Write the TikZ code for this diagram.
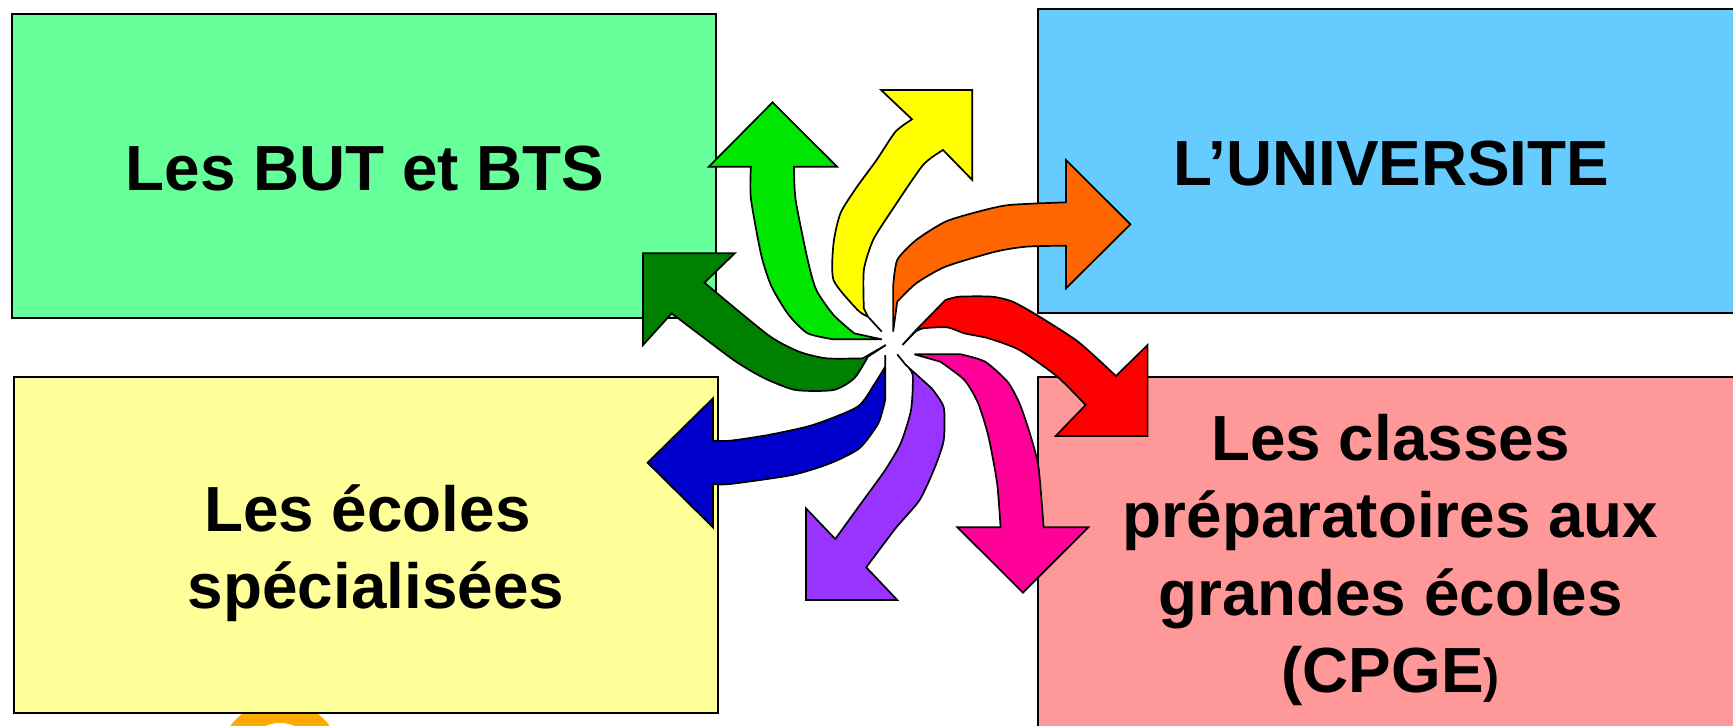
\documentclass[tikz,border=0pt]{standalone}
\usepackage{fontspec}
\setmainfont{Liberation Sans}
\definecolor{boxgreen}{HTML}{66FF99}
\definecolor{boxblue}{HTML}{66CCFF}
\definecolor{boxyellow}{HTML}{FFFF99}
\definecolor{boxpink}{HTML}{FF9999}
\definecolor{arlime}{HTML}{00E600}
\definecolor{aryellow}{HTML}{FFFF00}
\definecolor{arorange}{HTML}{FF6600}
\definecolor{arred}{HTML}{FF0000}
\definecolor{armagenta}{HTML}{FF0099}
\definecolor{arpurple}{HTML}{9933FF}
\definecolor{arblue}{HTML}{0000CC}
\definecolor{ardark}{HTML}{008000}
\definecolor{ringorange}{HTML}{FFAA00}
\tikzset{
  panel/.style={draw=black,line width=0.8pt,anchor=north west,inner sep=0pt,outer sep=0pt},
  caption/.style={font=\fontsize{31.9}{38.7}\selectfont\bfseries,align=center,inner sep=0pt,text=black},
  swirl/.style={draw=black,line width=0.85pt,line join=miter,miter limit=6},
  curve/.style={smooth,tension=0.4}
}
\begin{document}
\begin{tikzpicture}[x=0.5pt,y=-0.5pt]
\useasboundingbox (0,0) rectangle (1733,726);
\clip (0,0) rectangle (1733,726);
\fill[white] (0,0) rectangle (1733,726);
% ring peeping out below the yellow box
\draw[ringorange,line width=11pt] (280,763) circle[radius=51];
% panels
\node[panel,fill=boxgreen,minimum width=352pt,minimum height=152pt] (butbox) at (12,14) {};
\node[panel,fill=boxblue,minimum width=360pt,minimum height=152pt] (unibox) at (1038,9) {};
\node[panel,fill=boxyellow,minimum width=352pt,minimum height=168pt] (ecobox) at (14,377) {};
\node[panel,fill=boxpink,minimum width=360pt,minimum height=200pt] (cpgebox) at (1038,377) {};
% swirl of arrows, traced in a local frame
\begin{scope}[shift={(620,70)},x=0.1722pt,y=-0.16667pt]
\draw[swirl,fill=aryellow] (760,785)--(720,740)--plot[curve] coordinates {(708,715)(708,600)(735,510)(790,420)(880,285)(938,240)}--(1023,330)--(1023,60)--(758,60)--plot[curve] coordinates {(848,148)(800,185)(745,270)(685,355)(640,430)(620,520)(620,630)(690,720)(720,740)}--cycle;
\draw[swirl,fill=arlime] (760,808)--plot[curve] coordinates {(620,808)(545,790)(490,735)(440,650)(410,555)(380,385)(380,290)}--(258,290)--(443,97)--(630,290)--plot[curve] coordinates {(505,290)(510,390)(545,570)(570,660)(620,735)(680,790)}--cycle;
\draw[swirl,fill=arorange] (793,785)--plot[curve] coordinates {(793,650)(805,570)(860,510)(945,455)(1040,425)(1130,405)(1295,397)}--(1295,270)--(1482,463)--(1295,655)--plot[curve] coordinates {(1295,527)(1180,530)(1090,545)(945,590)(860,640)(805,695)}--cycle;
\draw[swirl,fill=ardark] (772,825)--plot[curve] coordinates {(705,865)(600,865)(520,845)(430,795)(245,638)}--(333,550)--(67,550)--(67,825)--plot[curve] coordinates {(150,730)(330,870)(420,925)(510,960)(620,960)(680,925)(720,860)}--cycle;
\draw[swirl,fill=arred] (820,825)--(858,782)--plot[curve] coordinates {(945,690)(985,680)(1080,680)(1140,695)(1210,735)(1330,815)(1440,918)}--(1532,825)--(1532,1098)--(1265,1098)--plot[curve] coordinates {(1352,1005)(1270,920)(1160,840)(1070,805)(1000,790)(950,772)(880,775)(858,785)}--cycle;
\draw[swirl,fill=armagenta] (855,853)--plot[curve] coordinates {(990,853)(1060,875)(1125,935)(1160,1000)(1190,1090)(1215,1190)(1230,1372)}--(1360,1372)--(1170,1568)--(980,1372)--plot[curve] coordinates {(1105,1372)(1095,1240)(1070,1100)(1040,1000)(1000,930)(930,875)}--cycle;
\draw[swirl,fill=arpurple] (805,853)--(830,885)--plot[curve] coordinates {(905,955)(940,1012)(940,1110)(915,1190)(870,1290)(800,1375)(715,1492)}--(805,1590)--(540,1590)--(540,1315)--plot[curve] coordinates {(625,1407)(700,1300)(770,1200)(815,1120)(845,1020)(850,915)(830,885)}--cycle;
\draw[swirl,fill=arblue] (770,855)--plot[curve] coordinates {(770,990)(750,1060)(695,1135)(610,1180)(500,1215)(320,1242)(270,1242)}--(270,1372)--(80,1178)--(270,985)--plot[curve] coordinates {(270,1112)(320,1112)(430,1095)(560,1065)(690,1010)(740,940)(770,890)}--cycle;
\end{scope}
% captions
\node[caption,anchor=base] (buttxt) at (365,191) {Les BUT et BTS};
\node[caption,anchor=base] (unitxt) at (1391,186) {L’UNIVERSITE};
\node[caption] (ecotxt) at (376,553.5) {Les écoles\hspace*{8.5pt}\\spécialisées};
\node[caption] (cpgetxt) at (1390.5,560) {Les classes\\préparatoires aux\\grandes écoles\\(CPGE{\fontsize{24}{24}\selectfont )}};
\end{tikzpicture}
\end{document}
